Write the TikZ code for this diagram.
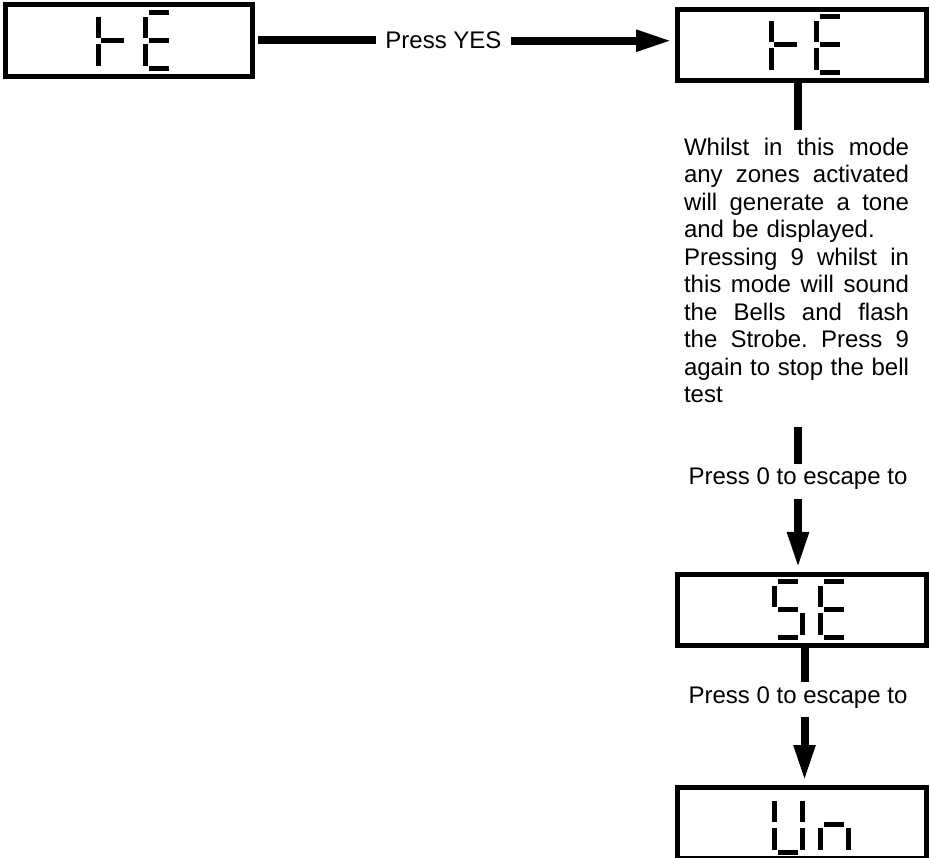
\documentclass[tikz,border=0pt]{standalone}
\usepackage{fontspec}
\setmainfont{Liberation Sans}
\usetikzlibrary{calc,arrows.meta}
\newcommand{\jl}[1]{{\spaceskip=0pt\xspaceskip=0pt\makebox[225pt][s]{#1}}}

\begin{document}
\begin{tikzpicture}[x=1pt, y=-1pt, line width=8pt,
  disp/.style={draw, line width=5pt, minimum width=249pt, minimum height=71pt, inner sep=0pt},
  lbl/.style={inner xsep=5pt, inner ysep=0pt, anchor=base, font=\fontsize{24}{27.5}\selectfont},
  arr/.style={-{Triangle[length=36pt, width=20pt]}}]
  \useasboundingbox (0,0) rectangle (930,858);

  \node[disp, minimum width=247pt, minimum height=72pt] (he1) at (129,40.5) {};
  \node[disp] (he2) at (802,45) {};
  \node[disp] (se) at (802,610) {};
  \node[disp] (un) at (802,823) {};

  \node[lbl] (yes) at (443.5,49) {Press YES};
  \node[lbl] (esc1) at (798,485) {Press 0 to escape to};
  \node[lbl] (esc2) at (798,703) {Press 0 to escape to};
  \node[anchor=north west, inner sep=0pt, text width=225pt, align=left,
        font=\fontsize{24}{27.5}\selectfont\frenchspacing] (note) at (680,134) {%
    \noindent\jl{Whilst in this mode}\\
    \jl{any zones activated}\\
    \jl{will generate a tone}\\
    and be displayed.\\
    \jl{Pressing 9 whilst in}\\
    \jl{this mode will sound}\\
    \jl{the Bells and flash}\\
    \jl{the Strobe. Press 9}\\
    \jl{again to stop the bell}\\
    test};
  \coordinate (c2) at (804.5,0);

  % 连线
  \draw[shorten <=3pt] (he1.east) -- (he1.east -| yes.west);
  \draw[arr, shorten >=3pt] (yes.east) -- (yes.east -| he2.west);
  \draw[shorten >=4pt] (he2.south -| esc1.base) -- (note.north -| esc1.base);
  \draw[shorten <=20pt] (note.south -| esc1.base) -- (esc1.north);
  \draw[arr, shorten <=5pt, shorten >=4pt] (esc1.south) -- (esc1.south |- se.north);
  \draw (se.south -| c2) -- (esc2.north -| c2);
  \draw[arr, shorten <=5pt, shorten >=4pt] (esc2.south -| c2) -- (un.north -| c2);

  % 数码管笔画
  \foreach \ox/\oy in {96/10, 769/14}
    \foreach \a/\b/\c/\d in {0/7/5/28, 5/28/28/33, 0/34/5/56}
      \fill[shift={(\ox,\oy)}] (\a,\b) rectangle (\c,\d);
  \foreach \ox/\oy in {143/10, 814/14, 818/579}
    \foreach \a/\b/\c/\d in {6/0/26/5, 0/7/5/28, 6/28/26/33, 0/34/5/56, 6/56/26/61}
      \fill[shift={(\ox,\oy)}] (\a,\b) rectangle (\c,\d);
  \foreach \a/\b/\c/\d in {6/0/26/5, 0/7/5/28, 6/28/26/33, 28/34/33/56, 6/56/26/61}
    \fill[shift={(772,579)}] (\a,\b) rectangle (\c,\d);
  \foreach \a/\b/\c/\d in {0/7/5/28, 28/7/33/28, 0/34/5/56, 28/34/33/56, 6/56/26/61}
    \fill[shift={(772,794)}] (\a,\b) rectangle (\c,\d);
  \foreach \a/\b/\c/\d in {6/28/26/33, 0/34/5/56, 28/34/33/56}
    \fill[shift={(818,794)}] (\a,\b) rectangle (\c,\d);
\end{tikzpicture}
\end{document}
